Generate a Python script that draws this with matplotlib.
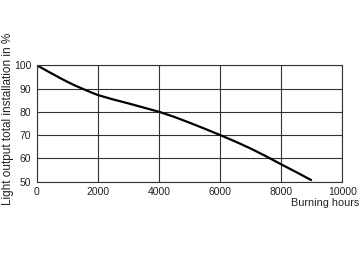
import matplotlib
matplotlib.use("Agg")
from matplotlib import pyplot as plt

# values
hours = [0, 250, 500, 750, 1000, 1250, 1500, 1750, 2000, 2500, 3000, 3500,
         4000, 4500, 5000, 5500, 6000, 6500, 7000, 7500, 8000, 8500, 9000]
light_output = [100, 98.2, 96.4, 94.6, 92.9, 91.3, 89.9, 88.5, 87.2, 85.3, 83.6, 81.8,
                80.0, 77.8, 75.3, 72.7, 70.0, 67.2, 64.2, 60.9, 57.4, 54.0, 50.5]
x_ticks = [0, 2000, 4000, 6000, 8000, 10000]
y_ticks = [50, 60, 70, 80, 90, 100]

plt.rcParams['font.family'] = ['Liberation Sans', 'DejaVu Sans']

fig = plt.figure(figsize=(3.6, 2.62), dpi=100)
ax = fig.add_axes([0.102, 0.307, 0.849, 0.444])

ax.plot(hours, light_output, color='black', linewidth=1.6, solid_capstyle='butt')

ax.set_xlim(0, 10000)
ax.set_ylim(50, 100)
ax.set_xticks(x_ticks)
ax.set_yticks(y_ticks)
ax.tick_params(length=0, labelsize=7.5, colors='#222222', pad=4)
ax.grid(True, color='#333333', linewidth=0.8)
for sp in ax.spines.values():
    sp.set_color('#333333')
    sp.set_linewidth(0.8)

# axis titles
fig.text(0.021, 0.548, 'Light output total installation in %', rotation=90,
         ha='center', va='center', fontsize=8.5, color='#222222')
fig.text(0.997, 0.225, 'Burning hours', ha='right', va='center',
         fontsize=7.8, color='#222222')

fig.savefig('out.png', dpi=100)
